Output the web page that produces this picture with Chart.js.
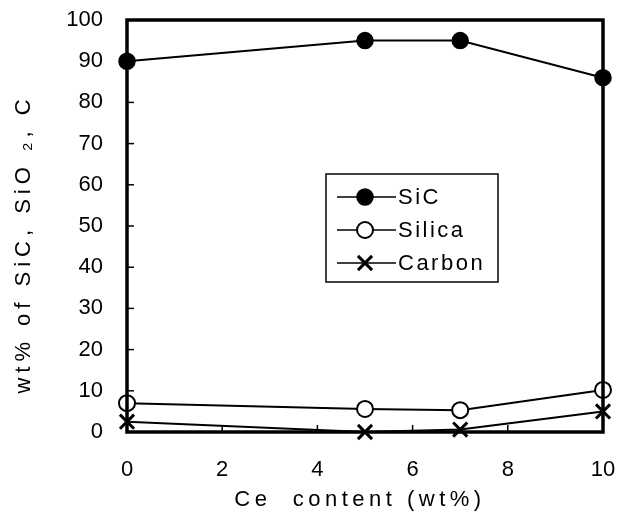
<!DOCTYPE html>
<html>
<head>
<meta charset="utf-8">
<script src="https://cdn.jsdelivr.net/npm/chart.js@4"></script>
<style>
  html, body { margin: 0; padding: 0; background: #fff; }
  #wrap { width: 621px; height: 517px; }
</style>
</head>
<body>
<div id="wrap"><canvas id="chart" width="621" height="517"></canvas></div>
<script>
// dati
const ceContent = [0, 5, 7, 10];
const sicValues = [90, 95, 95, 86];
const silicaValues = [7, 5.6, 5.3, 10.2];
const carbonValues = [2.5, 0, 0.6, 5];
const xTicks = [0, 2, 4, 6, 8, 10];
const yTicks = [0, 10, 20, 30, 40, 50, 60, 70, 80, 90, 100];
const xTitle = 'Ce  content (wt%)';
const yTitle = 'wt% of SiC, SiO \u2082, C';

const FONT = '"Liberation Sans", Arial, sans-serif';

function toPoints(vals) {
    return ceContent.map((x, i) => ({ x: x, y: vals[i] }));
}

// bordo, tacche interne, titoli e legenda dentro il grafico
const framePlugin = {
    id: 'frame',
    afterDatasetsDraw(chart) {
        const ctx = chart.ctx;
        const a = chart.chartArea;
        const xs = chart.scales.x;
        const ys = chart.scales.y;
        ctx.save();
        ctx.strokeStyle = '#000';
        ctx.lineWidth = 1.5;
        xTicks.slice(1, -1).forEach(v => {
            const px = xs.getPixelForValue(v);
            ctx.beginPath();
            ctx.moveTo(px, a.bottom);
            ctx.lineTo(px, a.bottom - 7);
            ctx.stroke();
        });
        yTicks.slice(1, -1).forEach(v => {
            const py = ys.getPixelForValue(v);
            ctx.beginPath();
            ctx.moveTo(a.left, py);
            ctx.lineTo(a.left + 7, py);
            ctx.stroke();
        });
        ctx.lineWidth = 3.5;
        ctx.strokeRect(a.left, a.top, a.right - a.left, a.bottom - a.top);

        // titoli degli assi
        ctx.fillStyle = '#000';
        ctx.font = '22px ' + FONT;
        ctx.textAlign = 'center';
        ctx.textBaseline = 'middle';
        ctx.letterSpacing = '4.5px';
        ctx.fillText(xTitle, 360, 500);
        ctx.save();
        ctx.translate(24, 244);
        ctx.rotate(-Math.PI / 2);
        ctx.letterSpacing = '5px';
        ctx.fillText(yTitle, 0, 0);
        ctx.restore();

        // legenda
        const lx = 326, ly = 174, lw = 172, lh = 108;
        ctx.fillStyle = '#fff';
        ctx.fillRect(lx, ly, lw, lh);
        ctx.lineWidth = 1.5;
        ctx.strokeRect(lx, ly, lw, lh);
        ctx.font = '22px ' + FONT;
        ctx.letterSpacing = '2.5px';
        ctx.textAlign = 'left';
        chart.data.datasets.forEach((ds, i) => {
            const cy = ly + 23 + i * 33;
            ctx.strokeStyle = '#000';
            ctx.lineWidth = 1.5;
            ctx.beginPath();
            ctx.moveTo(lx + 11, cy);
            ctx.lineTo(lx + 70, cy);
            ctx.stroke();
            ctx.lineWidth = ds.pointBorderWidth;
            ctx.fillStyle = ds.pointBackgroundColor;
            Chart.helpers.drawPoint(ctx, {
                pointStyle: ds.pointStyle,
                radius: ds.pointRadius,
                borderWidth: ds.pointBorderWidth
            }, lx + 39, cy);
            ctx.fillStyle = '#000';
            ctx.fillText(ds.label, lx + 72, cy + 1);
        });
        ctx.restore();
    }
};

function makeChart() {
    const ctx = document.getElementById('chart').getContext('2d');
    ctx.letterSpacing = '2px';
    new Chart(ctx, {
        type: 'line',
        data: {
            datasets: [
                {
                    label: 'SiC',
                    data: toPoints(sicValues),
                    borderColor: '#000',
                    borderWidth: 2,
                    pointStyle: 'circle',
                    pointRadius: 8,
                    pointBorderWidth: 1.5,
                    pointBackgroundColor: '#000',
                    pointBorderColor: '#000'
                },
                {
                    label: 'Silica',
                    data: toPoints(silicaValues),
                    borderColor: '#000',
                    borderWidth: 2,
                    pointStyle: 'circle',
                    pointRadius: 8,
                    pointBorderWidth: 2,
                    pointBackgroundColor: '#fff',
                    pointBorderColor: '#000'
                },
                {
                    label: 'Carbon',
                    data: toPoints(carbonValues),
                    borderColor: '#000',
                    borderWidth: 2,
                    pointStyle: 'crossRot',
                    pointRadius: 10,
                    pointBorderWidth: 3,
                    pointBackgroundColor: '#000',
                    pointBorderColor: '#000'
                }
            ]
        },
        options: {
            responsive: false,
            animation: false,
            clip: false,
            layout: { padding: { top: 20, right: 18, left: 0, bottom: 0 } },
            plugins: {
                legend: { display: false },
                tooltip: { enabled: false }
            },
            scales: {
                x: {
                    type: 'linear',
                    min: 0,
                    max: 10,
                    afterBuildTicks: s => { s.ticks = xTicks.map(v => ({ value: v })); },
                    afterFit: s => {
                        s.height = 85;
                        s.paddingLeft = 0;
                        s.paddingRight = 0;
                    },
                    grid: { display: false, drawTicks: false },
                    border: { display: false },
                    ticks: {
                        color: '#000',
                        padding: 25,
                        font: { family: FONT, size: 22 }
                    }
                },
                y: {
                    min: 0,
                    max: 100,
                    afterBuildTicks: s => { s.ticks = yTicks.map(v => ({ value: v })); },
                    afterFit: s => {
                        s.width = 127;
                        s.paddingTop = 0;
                        s.paddingBottom = 0;
                    },
                    grid: { display: false, drawTicks: false },
                    border: { display: false },
                    ticks: {
                        color: '#000',
                        padding: 24,
                        font: { family: FONT, size: 22 }
                    }
                }
            }
        },
        plugins: [framePlugin]
    });
}

window.onload = makeChart;
</script>
</body>
</html>
